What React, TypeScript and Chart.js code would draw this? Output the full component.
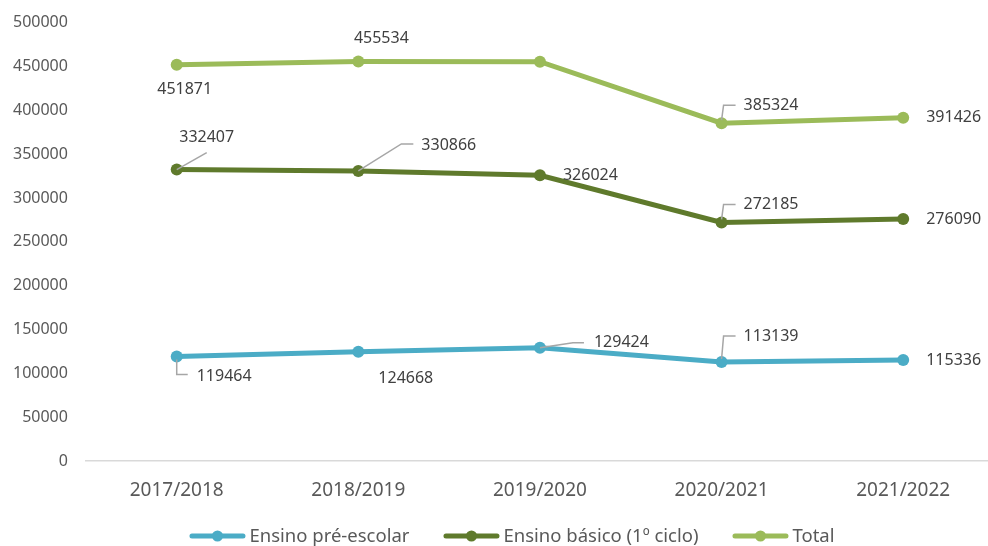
import React, { useEffect, useRef } from "react";
import { Chart, registerables } from "chart.js";

Chart.register(...registerables);

const categories = ["2017/2018", "2018/2019", "2019/2020", "2020/2021", "2021/2022"];
const preEscolar = [119464, 124668, 129424, 113139, 115336];
const basico = [332407, 330866, 326024, 272185, 276090];
const total = [451871, 455534, 455448, 385324, 391426];
const seriesNames = ["Ensino pré-escolar", "Ensino básico (1º ciclo)", "Total"];
const showLabel = [
  [true, true, true, true, true],
  [true, true, true, true, true],
  [true, true, false, true, true],
];
const yMin = 0;
const yMax = 500000;
const yStep = 50000;

const colors = ["#4BACC6", "#5F7A2C", "#9BBB59"];

// label placement relative to the point: [dx, dy, align, leader points]
type LabelPos = { dx: number; dy: number; align: CanvasTextAlign; leader?: number[][] };
const labelPos: LabelPos[][] = [
  [
    { dx: 20, dy: 20, align: "left", leader: [[0, 3], [0, 18], [11, 18]] },
    { dx: 20, dy: 27, align: "left" },
    { dx: 54, dy: -5, align: "left", leader: [[0, 0], [33, -5], [44, -5]] },
    { dx: 22, dy: -26, align: "left", leader: [[0, -3], [2, -26], [14, -26]] },
    { dx: 23, dy: 0, align: "left" },
  ],
  [
    { dx: 30, dy: -32, align: "center", leader: [[0, 0], [30, -17]] },
    { dx: 63, dy: -26, align: "left", leader: [[0, 0], [43, -27], [55, -27]] },
    { dx: 23, dy: 0, align: "left" },
    { dx: 22, dy: -18, align: "left", leader: [[0, -3], [2, -18], [14, -18]] },
    { dx: 23, dy: 0, align: "left" },
  ],
  [
    { dx: 8, dy: 25, align: "center" },
    { dx: 23, dy: -23, align: "center" },
    { dx: 0, dy: 0, align: "left" },
    { dx: 22, dy: -18, align: "left", leader: [[0, -3], [2, -18], [14, -18]] },
    { dx: 23, dy: 0, align: "left" },
  ],
];

const FONT = "'Noto Sans', sans-serif";
const SHIFT = 5; // canvas is drawn 5px above the page top

const labelPlugin = {
  id: "excelLabels",
  afterDatasetsDraw(chart: any) {
    const ctx = chart.ctx as CanvasRenderingContext2D;
    ctx.save();
    chart.data.datasets.forEach((ds: any, i: number) => {
      const meta = chart.getDatasetMeta(i);
      meta.data.forEach((el: any, j: number) => {
        if (!showLabel[i][j]) return;
        const p = labelPos[i][j];
        const x = el.x;
        const y = el.y;
        if (p.leader) {
          ctx.strokeStyle = "#A6A6A6";
          ctx.lineWidth = 1.5;
          ctx.beginPath();
          p.leader.forEach((pt, k) => {
            if (k === 0) ctx.moveTo(x + pt[0], y + pt[1]);
            else ctx.lineTo(x + pt[0], y + pt[1]);
          });
          ctx.stroke();
        }
        ctx.fillStyle = "#404040";
        ctx.font = `16px ${FONT}`;
        ctx.textAlign = p.align;
        ctx.textBaseline = "middle";
        ctx.fillText(String(ds.data[j]), x + p.dx, y + p.dy);
      });
    });
    ctx.restore();
  },
  afterDraw(chart: any) {
    // legend in the reference's style: line + marker sample, then text
    const ctx = chart.ctx as CanvasRenderingContext2D;
    ctx.save();
    ctx.font = `18.5px ${FONT}`;
    const sample = 56;
    const gapText = 4;
    const gapItem = 34;
    const widths = seriesNames.map((n) => ctx.measureText(n).width);
    const totalW = widths.reduce((a, w) => a + sample + gapText + w, 0) + gapItem * (seriesNames.length - 1);
    let x = 512 - totalW / 2;
    const y = 536 + SHIFT;
    seriesNames.forEach((n, i) => {
      ctx.strokeStyle = colors[i];
      ctx.fillStyle = colors[i];
      ctx.lineWidth = 5;
      ctx.lineCap = "round";
      ctx.beginPath();
      ctx.moveTo(x + 2.5, y);
      ctx.lineTo(x + sample - 2.5, y);
      ctx.stroke();
      ctx.beginPath();
      ctx.arc(x + sample / 2, y, 5.5, 0, Math.PI * 2);
      ctx.fill();
      ctx.fillStyle = "#595959";
      ctx.textAlign = "left";
      ctx.textBaseline = "middle";
      ctx.fillText(n, x + sample + gapText, y + 1);
      x += sample + gapText + widths[i] + gapItem;
    });
    ctx.restore();
  },
};

export default function App() {
  const ref = useRef<HTMLCanvasElement>(null);
  useEffect(() => {
    const data = [preEscolar, basico, total];
    const chart = new Chart(ref.current!, {
      type: "line",
      data: {
        labels: categories,
        datasets: data.map((d, i) => ({
          label: seriesNames[i],
          data: d,
          borderColor: colors[i],
          backgroundColor: colors[i],
          borderWidth: 5,
          pointRadius: 6,
          pointHoverRadius: 6,
          pointBackgroundColor: colors[i],
          pointBorderWidth: 0,
          tension: 0,
        })),
      },
      options: {
        responsive: false,
        animation: false,
        devicePixelRatio: 1,
        layout: { padding: { left: -5, top: 10, right: -2, bottom: 26 + SHIFT } },
        scales: {
          x: {
            offset: true,
            grid: { display: false, drawTicks: false },
            border: { display: true, color: "#D9D9D9", width: 1.5 },
            ticks: { color: "#595959", font: { family: FONT, size: 19 }, padding: 18 },
          },
          y: {
            min: yMin,
            max: yMax,
            grid: { display: false, drawTicks: false },
            border: { display: false },
            ticks: {
              stepSize: yStep,
              color: "#595959",
              font: { family: FONT, size: 16 },
              padding: 18,
              callback: (v: any) => String(v),
            },
          },
        },
        plugins: {
          tooltip: { enabled: false },
          legend: { display: false },
        },
      },
      plugins: [labelPlugin],
    });
    return () => chart.destroy();
  }, []);
  return (
    <div style={{ position: "fixed", left: 0, top: 0, width: 988, height: 546, overflow: "hidden", background: "#fff" }}>
      <canvas
        ref={ref}
        width={1000}
        height={546 + SHIFT * 2}
        style={{ display: "block", marginTop: -SHIFT }}
      />
    </div>
  );
}
